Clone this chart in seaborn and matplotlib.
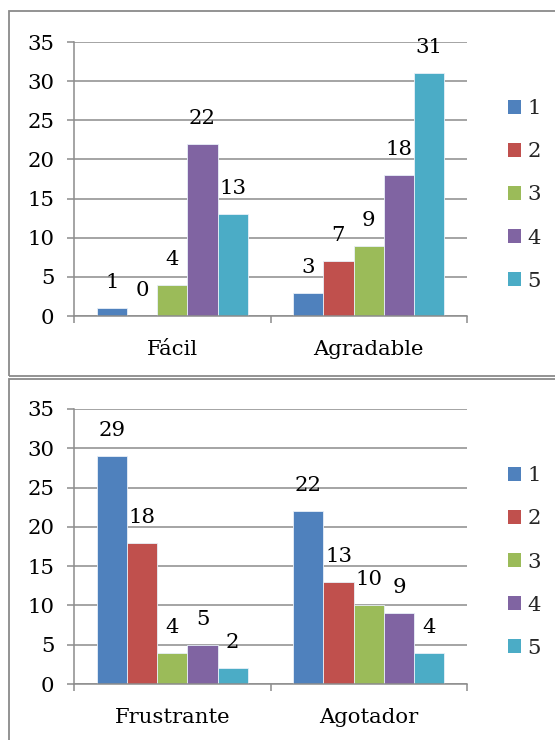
import matplotlib
matplotlib.use("Agg")
import matplotlib.pyplot as plt
from matplotlib.patches import Rectangle, Patch
import pandas as pd
import seaborn as sns

# Survey responses (rating 1-5) for each perceived quality
ratings = ["1", "2", "3", "4", "5"]
categories_top = ["Fácil", "Agradable"]
categories_bottom = ["Frustrante", "Agotador"]
facil = [1, 0, 4, 22, 13]
agradable = [3, 7, 9, 18, 31]
frustrante = [29, 18, 4, 5, 2]
agotador = [22, 13, 10, 9, 4]
y_ticks = [0, 5, 10, 15, 20, 25, 30, 35]

colors = ["#4F81BD", "#C0504D", "#9BBB59", "#8064A2", "#4BACC6"]
grid_color = "#8C8C8C"

sns.set_theme(style="white")
plt.rcParams["font.family"] = ["DejaVu Serif"]
FS = 15.3


def long_frame(cats, series):
    rows = []
    for cat, vals in zip(cats, series):
        for r, v in zip(ratings, vals):
            rows.append({"categoria": cat, "valor": r, "n": v})
    return pd.DataFrame(rows)


fig = plt.figure(figsize=(5.55, 7.40), dpi=100)
W, H = 555, 740


def px_rect(x0, y0, x1, y1):
    return [x0 / W, 1 - y1 / H, (x1 - x0) / W, (y1 - y0) / H]


# Panel frames
for (x0, y0, x1, y1) in [(9, 11, 560, 376), (9, 379, 560, 750)]:
    fig.patches.append(Rectangle((x0 / W, 1 - y1 / H), (x1 - x0) / W, (y1 - y0) / H,
                                 transform=fig.transFigure, fill=False,
                                 edgecolor="#8A8A8A", linewidth=1.3))


def draw_panel(rect, cats, series, legend_center_y):
    ax = fig.add_axes(rect)
    df = long_frame(cats, series)
    sns.barplot(data=df, x="categoria", y="n", hue="valor", hue_order=ratings,
                order=cats, palette=colors, saturation=1, width=0.77, gap=0,
                errorbar=None, edgecolor="#E8F0F8", linewidth=0.6, ax=ax)
    if ax.legend_ is not None:
        ax.legend_.remove()
    for cont in ax.containers:
        ax.bar_label(cont, fmt="%d", padding=11.5, fontsize=FS, color="black")
    ax.set_xlim(-0.5, 1.5)
    ax.set_ylim(0, 35)
    ax.set_yticks(y_ticks)
    ax.set_xlabel("")
    ax.set_ylabel("")
    ax.grid(axis="y", color=grid_color, linewidth=1.1)
    ax.grid(axis="x", visible=False)
    ax.set_axisbelow(True)
    for s in ["top", "right"]:
        ax.spines[s].set_visible(False)
    for s in ["left", "bottom"]:
        ax.spines[s].set_color(grid_color)
        ax.spines[s].set_linewidth(1.1)
    ax.tick_params(axis="y", which="major", direction="out", length=5,
                   width=1.1, color=grid_color, labelsize=FS, pad=9,
                   labelcolor="black", left=True)
    ax.tick_params(axis="x", which="major", length=0, labelsize=FS, pad=17,
                   labelcolor="black")
    ax.set_xticks([-0.5, 0.5, 1.5], minor=True)
    ax.tick_params(axis="x", which="minor", direction="out", length=5,
                   width=1.1, color=grid_color, bottom=True)
    handles = [Patch(facecolor=c, edgecolor="none") for c in colors]
    fig.legend(handles, ratings, loc="center left",
               bbox_to_anchor=(508 / W, 1 - legend_center_y / H),
               frameon=False, fontsize=FS, handlelength=0.6, handleheight=0.6,
               handletextpad=0.3, labelspacing=1.13, borderpad=0,
               borderaxespad=0)
    return ax


draw_panel(px_rect(74, 42, 467, 316), categories_top, [facil, agradable], 195)
draw_panel(px_rect(74, 409, 467, 684), categories_bottom, [frustrante, agotador], 562)

fig.savefig("out.png", dpi=100)
